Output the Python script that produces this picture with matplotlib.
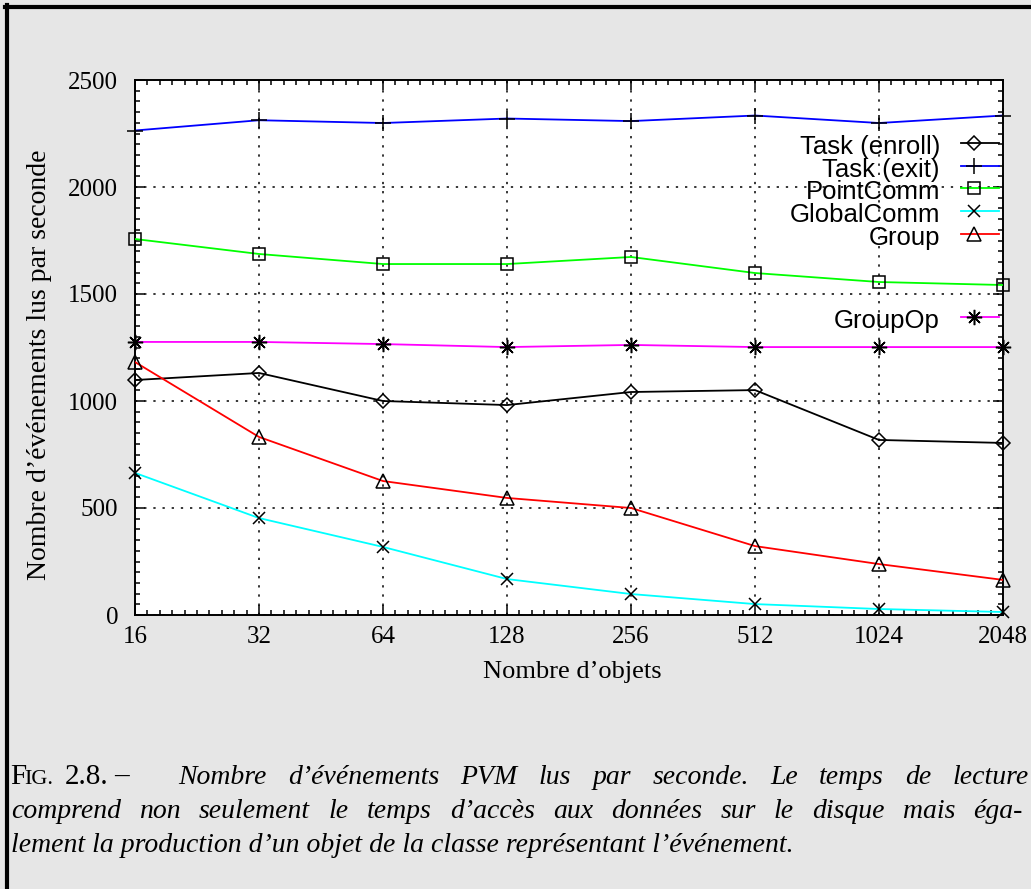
import numpy as np
import matplotlib.pyplot as plt
from matplotlib.ticker import FixedLocator, NullFormatter

# donnees
objets = [16, 32, 64, 128, 256, 512, 1024, 2048]
task_enroll = [1098, 1131, 1000, 981, 1042, 1051, 818, 804]
task_exit = [2264, 2312, 2299, 2320, 2308, 2334, 2299, 2334]
point_comm = [1757, 1687, 1640, 1640, 1673, 1598, 1556, 1542]
global_comm = [664, 453, 318, 168, 98, 51, 28, 14]
group = [1182, 832, 626, 547, 500, 322, 238, 164]
group_op = [1276, 1276, 1266, 1252, 1262, 1252, 1252, 1252]

yticks = [0, 500, 1000, 1500, 2000, 2500]

W, H = 1031, 889
serif = 'Liberation Serif'
sans = 'Liberation Sans'

fig = plt.figure(figsize=(W / 100, H / 100), dpi=100)
fig.patch.set_facecolor('#e6e6e6')


def px(x, y):
    return x / W, 1 - y / H


ax = fig.add_axes([135 / W, 1 - 615 / H, (1003 - 135) / W, (615 - 80) / H])
ax.set_facecolor('white')

series = [
    ('Task (enroll)', task_enroll, 'black', 'D', 7.5),
    ('Task (exit)', task_exit, 'blue', '+', 11),
    ('PointComm', point_comm, '#00ff00', 's', 8.5),
    ('GlobalComm', global_comm, 'cyan', 'x', 8.5),
    ('Group', group, 'red', '^', 9.5),
    ('GroupOp', group_op, 'magenta', (8, 2, 0), 11),
]

for name, vals, col, mk, ms in series:
    ax.plot(objets, vals, color=col, lw=1.3, zorder=3)
    ax.plot(objets, vals, ls='none', marker=mk, ms=ms, mfc='none', mec='black',
            mew=1.1, clip_on=False, zorder=4)

ax.set_xscale('log', base=2)
ax.set_xlim(16, 2048)
ax.set_ylim(0, 2500)
ax.xaxis.set_major_locator(FixedLocator(objets))
ax.set_xticklabels([str(o) for o in objets])
ax.xaxis.set_minor_locator(FixedLocator([16 * 2 ** (k / 10) for k in range(71)]))
ax.xaxis.set_minor_formatter(NullFormatter())
ax.set_yticks(yticks)
ax.yaxis.set_minor_locator(FixedLocator(np.arange(0, 2501, 50)))

ax.grid(True, which='major', color='black', ls=(0, (1.5, 4.5)), lw=1.1)
ax.tick_params(which='both', direction='in', top=True, right=True, width=1.1)
ax.tick_params(which='major', length=7)
ax.tick_params(which='minor', length=3.5)
ax.tick_params(axis='y', pad=12)
ax.tick_params(axis='x', pad=8)
for lab in ax.get_xticklabels() + ax.get_yticklabels():
    lab.set_fontfamily(serif)
    lab.set_fontsize(18)
for sp in ax.spines.values():
    sp.set_linewidth(1.4)

fig.text(*px(572, 672), "Nombre d\u2019objets", family=serif, size=19,
         ha='center', va='center')
fig.text(*px(40, 365), "Nombre d\u2019\u00e9v\u00e9nements lus par seconde",
         family=serif, size=20, rotation=90, ha='center', va='center')

# cle (style gnuplot : texte a gauche, echantillon a droite)
key_y = [143, 166, 188, 211, 234, 317]
for (name, vals, col, mk, ms), ky in zip(series, key_y):
    fig.text(*px(940, ky + 11), name, family=sans, size=18.5, ha='right',
             va='baseline')
    x0, y0 = px(961, ky)
    x1, _ = px(999, ky)
    xm, _ = px(974, ky)
    fig.add_artist(plt.Line2D([x0, x1], [y0, y0], color=col, lw=1.3))
    fig.add_artist(plt.Line2D([xm], [y0], ls='none', marker=mk, ms=ms,
                              mfc='none', mec='black', mew=1.1))

# legende de la figure (lignes justifiees)
renderer = fig.canvas.get_renderer()
cap = dict(family=serif, style='italic', size=20, va='baseline')


def justify(line, x0, x1, y):
    words = line.split(' ')
    texts = [fig.text(0, 0, w, **cap) for w in words]
    widths = [t.get_window_extent(renderer).width for t in texts]
    gap = (x1 - x0 - sum(widths)) / (len(words) - 1)
    x = x0
    for t, w in zip(texts, widths):
        t.set_position(px(x, y))
        x += w + gap


fig.text(*px(10, 784), "F", family=serif, size=21, va='baseline')
fig.text(*px(24, 784), "IG.", family=serif, size=16, va='baseline')
fig.text(*px(65, 784), "2.8.", family=serif, size=21, va='baseline')
fig.text(*px(114, 784), "\u2013", family=serif, size=21, va='baseline')
justify("Nombre d\u2019\u00e9v\u00e9nements PVM lus par seconde. "
        "Le temps de lecture", 178, 1029, 784)
justify("comprend non seulement le temps d\u2019acc\u00e8s aux "
        "donn\u00e9es sur le disque mais \u00e9ga-", 11, 1023, 818)
fig.text(*px(11, 852), "lement la production d\u2019un objet de la classe "
         "repr\u00e9sentant l\u2019\u00e9v\u00e9nement.", **cap)

# cadre
fig.add_artist(plt.Line2D([6.5 / W, 6.5 / W], [0, 1 - 5 / H], color='black', lw=3))
fig.add_artist(plt.Line2D([5 / W, 1], [1 - 6.5 / H, 1 - 6.5 / H], color='black', lw=3))

fig.savefig('out.png', dpi=100, facecolor=fig.get_facecolor())
